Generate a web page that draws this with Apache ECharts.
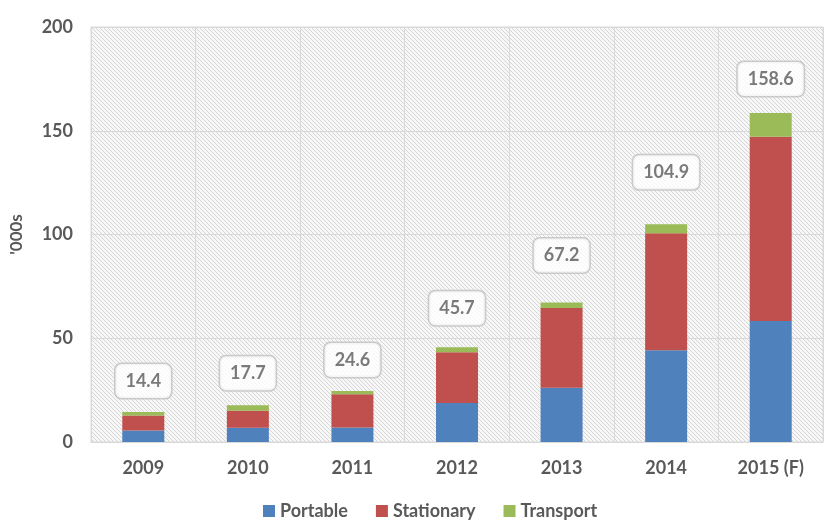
<!DOCTYPE html>
<html>
<head>
<meta charset="utf-8">
<script src="https://cdn.jsdelivr.net/npm/echarts@6/dist/echarts.min.js"></script>
<style>
  html, body { margin: 0; padding: 0; background: #fff; }
  #chart { width: 829px; height: 523px; }
</style>
</head>
<body>
<div id="chart"></div>
<script>
// values, in thousands
const years = ['2009', '2010', '2011', '2012', '2013', '2014', '2015 (F)'];
const portable = [5.6, 6.9, 7.0, 18.8, 26.2, 44.2, 58.3];
const stationary = [7.2, 8.2, 16.0, 24.4, 38.4, 56.4, 88.8];
const transport = [1.6, 2.6, 1.6, 2.5, 2.6, 4.3, 11.5];
const totals = [14.4, 17.7, 24.6, 45.7, 67.2, 104.9, 158.6];

// how far each total box sits above its bar (px), as placed in the picture
const labelLift = [31, 32, 31, 39, 47, 52, 34];

const chart = echarts.init(document.getElementById('chart'));

// light diagonal hatch for the plot background
function hatch() {
  const c = document.createElement('canvas');
  c.width = 4; c.height = 4;
  const ctx = c.getContext('2d');
  ctx.fillStyle = '#f7f7f7';
  ctx.fillRect(0, 0, 4, 4);
  ctx.fillStyle = '#d6d6d6';
  for (let i = 0; i < 4; i++) ctx.fillRect(i, i, 1, 1);
  return c;
}

const font = 'Lato';
const textGray = '#595959';

const option = {
  animation: false,
  grid: {
    left: 90, right: 6, top: 27, bottom: 81,
    show: true,
    backgroundColor: { image: hatch(), repeat: 'repeat' },
    borderColor: '#d9d9d9',
    borderWidth: 1
  },
  legend: {
    top: 497,
    left: 258,
    itemWidth: 12,
    itemHeight: 12,
    itemGap: 28,
    icon: 'rect',
    textStyle: { fontFamily: font, fontWeight: 'bold', fontSize: 18, color: textGray },
    data: ['Portable', 'Stationary', 'Transport']
  },
  xAxis: {
    type: 'category',
    data: years,
    axisLine: { lineStyle: { color: '#d9d9d9' } },
    axisTick: { show: false },
    splitLine: { show: true, lineStyle: { color: '#d9d9d9' } },
    axisLabel: {
      margin: 17,
      fontFamily: font, fontWeight: 'bold', fontSize: 18, color: textGray
    }
  },
  yAxis: {
    type: 'value',
    min: 0, max: 200, interval: 50,
    name: "'000s",
    nameLocation: 'middle',
    nameGap: 66,
    nameTextStyle: { fontFamily: font, fontWeight: 'bold', fontSize: 17, color: textGray },
    axisLine: { show: false },
    axisTick: { show: false },
    splitLine: { lineStyle: { color: '#d9d9d9' } },
    axisLabel: {
      margin: 18,
      fontFamily: font, fontWeight: 'bold', fontSize: 18, color: textGray
    }
  },
  series: [
    {
      name: 'Portable', type: 'bar', stack: 'units', barWidth: 42,
      itemStyle: { color: '#4f81bd' }, data: portable
    },
    {
      name: 'Stationary', type: 'bar', stack: 'units',
      itemStyle: { color: '#c0504d' }, data: stationary
    },
    {
      name: 'Transport', type: 'bar', stack: 'units',
      itemStyle: { color: '#9bbb59' }, data: transport
    },
    {
      name: 'Total', type: 'scatter', symbolSize: 0,
      silent: true,
      data: totals.map((v, i) => ({
        value: v,
        label: { offset: [0, -labelLift[i]] }
      })),
      label: {
        show: true,
        position: 'inside',
        formatter: p => p.value.toFixed(1),
        fontFamily: font, fontWeight: 'bold', fontSize: 18, color: textGray,
        backgroundColor: '#fff',
        borderColor: '#bfbfbf', borderWidth: 1.5, borderRadius: 6,
        padding: [9, 10, 7, 10]
      }
    }
  ]
};

chart.setOption(option);
</script>
</body>
</html>
